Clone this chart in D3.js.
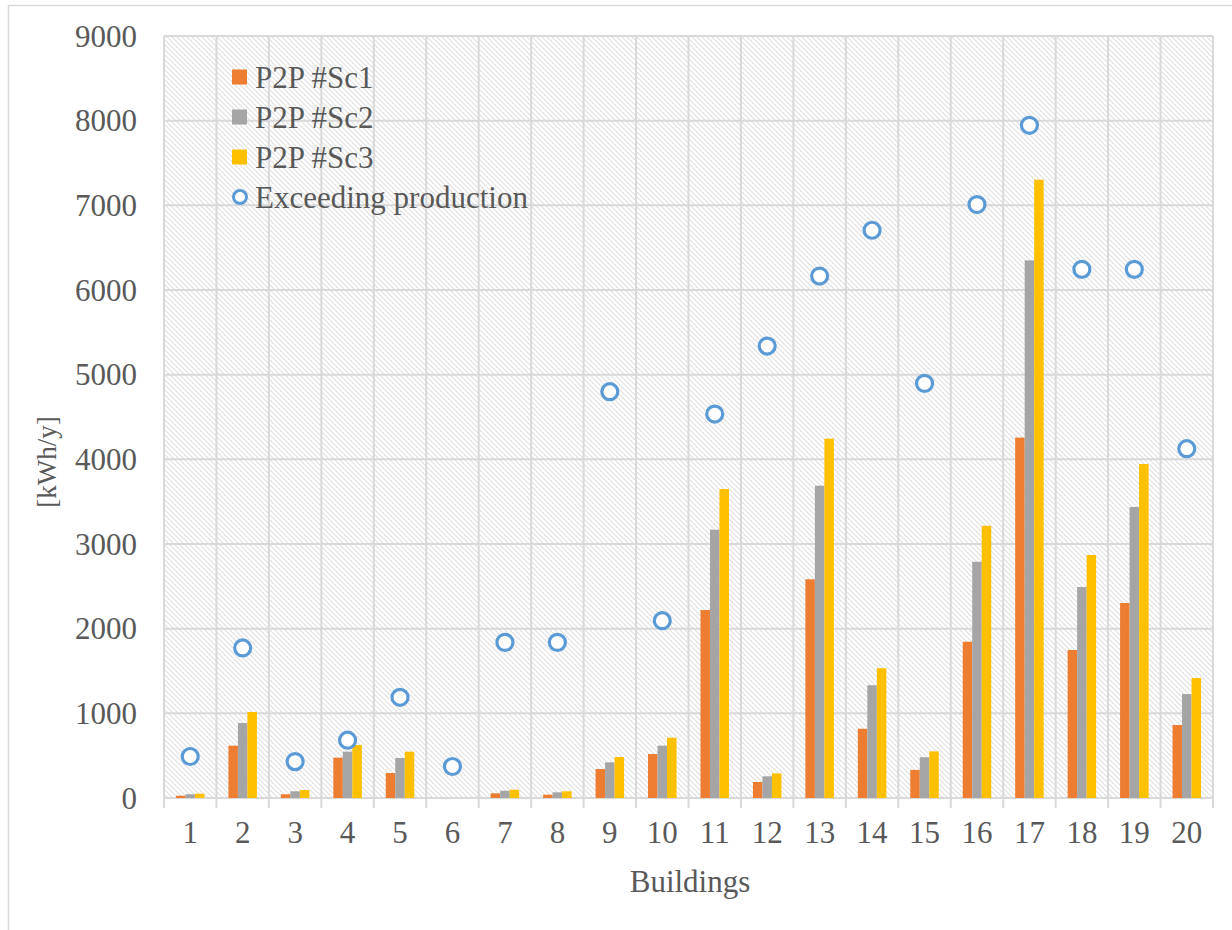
<!DOCTYPE html>
<html>
<head>
<meta charset="utf-8">
<script src="https://cdn.jsdelivr.net/npm/d3@7"></script>
<style>
  html, body { margin: 0; padding: 0; background: #fff; }
  svg { display: block; }
  text { font-family: "Liberation Serif", "Times New Roman", serif; fill: #595959; }
</style>
</head>
<body>
<svg id="chart" width="1232" height="930"></svg>
<script>
// Buildings and annual P2P exchanged energy per scenario [kWh/y]
const buildings = ["1","2","3","4","5","6","7","8","9","10","11","12","13","14","15","16","17","18","19","20"];
const sc1 = [27, 618, 44, 476, 295, 0, 55, 39, 342, 520, 2220, 189, 2583, 818, 332, 1846, 4257, 1748, 2303, 862];
const sc2 = [44, 886, 79, 547, 472, 0, 86, 67, 421, 618, 3169, 256, 3689, 1332, 481, 2790, 6350, 2492, 3437, 1228];
const sc3 = [51, 1016, 94, 626, 547, 0, 98, 79, 484, 712, 3649, 291, 4244, 1533, 551, 3215, 7303, 2870, 3945, 1417];
const exceeding = [490, 1772, 430, 683, 1189, 372, 1838, 1838, 4799, 2094, 4535, 5338, 6165, 6706, 4897, 7009, 7945, 6244, 6244, 4126];
const seriesNames = ["P2P #Sc1", "P2P #Sc2", "P2P #Sc3"];
const seriesColors = ["#ed7d31", "#a5a5a5", "#ffc000"];
const yTicks = [0, 1000, 2000, 3000, 4000, 5000, 6000, 7000, 8000, 9000];

const svg = d3.select("#chart");
const plot = { left: 164, right: 1213, top: 36, bottom: 798 };

// Outer chart frame
svg.append("rect")
  .attr("x", 8.5).attr("y", 5.5).attr("width", 1400).attr("height", 1100)
  .attr("fill", "none").attr("stroke", "#d9d9d9").attr("stroke-width", 1.5);

// Diagonal hatch fill for the plot area
const defs = svg.append("defs");
const pat = defs.append("pattern")
  .attr("id", "hatch").attr("patternUnits", "userSpaceOnUse")
  .attr("width", 5).attr("height", 5);
pat.append("rect").attr("width", 5).attr("height", 5).attr("fill", "#ffffff");
pat.append("path")
  .attr("d", "M-1,-1 L6,6 M-1,4 L1,6 M4,-1 L6,1")
  .attr("stroke", "#e0e0e0").attr("stroke-width", 1.1);

const x = d3.scaleBand().domain(buildings).range([plot.left, plot.right]).padding(0);
const xs = d3.scaleBand().domain(seriesNames).range([0, x.bandwidth()])
  .paddingInner(0).paddingOuter(1.26);
const y = d3.scaleLinear().domain([0, 9000]).range([plot.bottom, plot.top]);

svg.append("rect")
  .attr("x", plot.left).attr("y", plot.top)
  .attr("width", plot.right - plot.left).attr("height", plot.bottom - plot.top)
  .attr("fill", "url(#hatch)");

// Horizontal gridlines
svg.append("g").selectAll("line").data(yTicks).join("line")
  .attr("x1", plot.left).attr("x2", plot.right)
  .attr("y1", d => y(d)).attr("y2", d => y(d))
  .attr("stroke", "#d9d9d9").attr("stroke-width", 2);

// Vertical gridlines at category boundaries, extended below axis as tick marks
const bounds = buildings.map(b => x(b)).concat([x(buildings[buildings.length - 1]) + x.bandwidth()]);
svg.append("g").selectAll("line").data(bounds).join("line")
  .attr("x1", d => d).attr("x2", d => d)
  .attr("y1", plot.top).attr("y2", plot.bottom + 10)
  .attr("stroke", "#d9d9d9").attr("stroke-width", 2);

// Y tick labels
svg.append("g").selectAll("text").data(yTicks).join("text")
  .attr("x", 137).attr("y", d => y(d))
  .attr("text-anchor", "end").attr("dominant-baseline", "central")
  .attr("font-size", 31)
  .text(d => d);

// X tick labels
svg.append("g").selectAll("text").data(buildings).join("text")
  .attr("x", d => x(d) + x.bandwidth() / 2).attr("y", 843)
  .attr("text-anchor", "middle")
  .attr("font-size", 31)
  .text(d => d);

// Axis titles
svg.append("text")
  .attr("x", 690).attr("y", 892)
  .attr("text-anchor", "middle").attr("font-size", 31)
  .text("Buildings");
svg.append("text")
  .attr("transform", "translate(56,462) rotate(-90)")
  .attr("text-anchor", "middle").attr("font-size", 27)
  .text("[kWh/y]");

// Bars
const seriesData = [sc1, sc2, sc3];
seriesData.forEach((vals, si) => {
  svg.append("g").selectAll("rect").data(vals).join("rect")
    .attr("x", (d, i) => x(buildings[i]) + xs(seriesNames[si]))
    .attr("width", xs.bandwidth())
    .attr("y", d => y(d))
    .attr("height", d => y(0) - y(d))
    .attr("fill", seriesColors[si]);
});

// Exceeding production markers
svg.append("g").selectAll("circle").data(exceeding).join("circle")
  .attr("cx", (d, i) => x(buildings[i]) + x.bandwidth() / 2)
  .attr("cy", d => y(d))
  .attr("r", 8)
  .attr("fill", "#ffffff")
  .attr("stroke", "#5b9bd5").attr("stroke-width", 3.2);

// Legend
const legend = svg.append("g");
seriesNames.forEach((name, i) => {
  const cy = 77 + i * 40;
  legend.append("rect").attr("x", 232).attr("y", cy - 7.5).attr("width", 15).attr("height", 15)
    .attr("fill", seriesColors[i]);
  legend.append("text").attr("x", 255).attr("y", cy).attr("dominant-baseline", "central")
    .attr("font-size", 31).text(name);
});
legend.append("circle").attr("cx", 240).attr("cy", 197).attr("r", 6.5)
  .attr("fill", "#ffffff").attr("stroke", "#5b9bd5").attr("stroke-width", 3);
legend.append("text").attr("x", 255).attr("y", 197).attr("dominant-baseline", "central")
  .attr("font-size", 31).text("Exceeding production");
</script>
</body>
</html>
